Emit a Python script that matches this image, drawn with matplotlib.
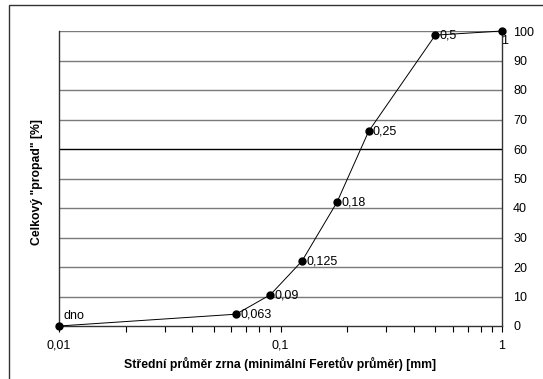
import matplotlib
matplotlib.use("Agg")
import matplotlib.pyplot as plt
from matplotlib.patches import Rectangle
from matplotlib.ticker import LogLocator, NullFormatter, FixedLocator, FixedFormatter

sizes = [0.01, 0.063, 0.09, 0.125, 0.18, 0.25, 0.5, 1.0]
passing = [0, 4.0, 10.6, 22.0, 42.0, 66.0, 98.6, 100.0]
point_labels = ["dno", "0,063", "0,09", "0,125", "0,18", "0,25", "0,5", "1"]
x_ticks = [0.01, 0.1, 1]
x_tick_labels = ["0,01", "0,1", "1"]
y_ticks = list(range(0, 101, 10))

plt.rcParams['font.family'] = ['Liberation Sans', 'DejaVu Sans']

W, H = 543, 379
fig = plt.figure(figsize=(W / 100, H / 100), dpi=100)
ax = fig.add_axes([59 / W, 1 - 326 / H, (502 - 59) / W, (326 - 31) / H])

# outer chart frame
fig.patches.append(Rectangle((9 / W, -0.01), 1.05, 1 - 5 / H + 0.01, transform=fig.transFigure,
                             fill=False, edgecolor='#333333', linewidth=1.0))

ax.set_xscale('log')
ax.set_xlim(0.01, 1)
ax.set_ylim(0, 100)

for v in y_ticks[1:]:
    ax.axhline(v, color='black' if v == 60 else '#7a7a7a', linewidth=1.0, zorder=1)

ax.plot(sizes, passing, color='black', linewidth=0.7, marker='o', markersize=5,
        zorder=3, clip_on=False)

offsets = {"dno": (3, 3, 'left', 'bottom'), "1": (2, -3, 'center', 'top')}
for x, y, t in zip(sizes, passing, point_labels):
    dx, dy, ha, va = offsets.get(t, (3, -0.5, 'left', 'center'))
    ax.annotate(t, (x, y), xytext=(dx, dy), textcoords='offset points',
                ha=ha, va=va, fontsize=9)

ax.spines['top'].set_visible(False)
for s in ['left', 'right', 'bottom']:
    ax.spines[s].set_color('#333333')
    ax.spines[s].set_linewidth(1.0)

ax.yaxis.tick_right()
ax.set_yticks(y_ticks)
ax.tick_params(axis='y', length=0, labelsize=9, pad=8)
ax.xaxis.set_major_locator(FixedLocator(x_ticks))
ax.xaxis.set_major_formatter(FixedFormatter(x_tick_labels))
ax.xaxis.set_minor_locator(LogLocator(base=10, subs=range(2, 10)))
ax.xaxis.set_minor_formatter(NullFormatter())
ax.tick_params(axis='x', which='both', length=4, width=0.8, direction='out',
               labelsize=9, pad=6)

ax.set_xlabel("Střední průměr zrna (minimální Feretův průměr) [mm]", fontsize=8.8,
              fontweight='bold', labelpad=4)
fig.text(37 / W, 1 - 182 / H, 'Celkový "propad" [%]', rotation=90, fontsize=8.8,
         fontweight='bold', ha='center', va='center')

fig.savefig("out.png", dpi=100)
